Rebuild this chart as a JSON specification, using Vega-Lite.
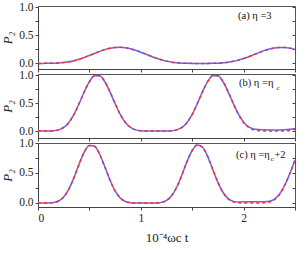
{
  "$schema": "https://vega.github.io/schema/vega-lite/v6.json",
  "padding": {"left": 1, "top": 0, "right": 1, "bottom": 0},
  "spacing": 5,
  "bounds": "flush",
  "config": {
    "view": {"stroke": "#555", "strokeWidth": 1},
    "axis": {"labelFont": "Liberation Serif", "labelFontSize": 11.5, "labelColor": "#222", "tickColor": "#444", "domainColor": "#444", "grid": false, "titleFont": "Liberation Serif", "titleFontWeight": "normal", "titleColor": "#222", "tickSize": 3, "labelPadding": 2}
  },
  "datasets": {
    "a": [
      {"x":0,"r":0,"b":0},{"x":0.05,"r":0,"b":0},{"x":0.1,"r":0.0004,"b":0.0004},{"x":0.15,"r":0.002,"b":0.002},{"x":0.2,"r":0.006,"b":0.006},{"x":0.25,"r":0.015,"b":0.015},{"x":0.3,"r":0.028,"b":0.028},{"x":0.35,"r":0.048,"b":0.048},{"x":0.4,"r":0.074,"b":0.074},{"x":0.45,"r":0.105,"b":0.105},{"x":0.5,"r":0.141,"b":0.141},{"x":0.55,"r":0.177,"b":0.177},{"x":0.6,"r":0.213,"b":0.213},{"x":0.65,"r":0.244,"b":0.244},{"x":0.7,"r":0.267,"b":0.267},{"x":0.75,"r":0.282,"b":0.282},{"x":0.8,"r":0.285,"b":0.285},{"x":0.85,"r":0.277,"b":0.277},{"x":0.9,"r":0.259,"b":0.259},{"x":0.95,"r":0.232,"b":0.232},{"x":1,"r":0.199,"b":0.199},{"x":1.05,"r":0.163,"b":0.163},{"x":1.1,"r":0.126,"b":0.126},{"x":1.15,"r":0.093,"b":0.093},{"x":1.2,"r":0.063,"b":0.063},{"x":1.25,"r":0.04,"b":0.04},{"x":1.3,"r":0.022,"b":0.022},{"x":1.35,"r":0.011,"b":0.011},{"x":1.4,"r":0.004,"b":0.004},{"x":1.45,"r":0.001,"b":0.001},{"x":1.5,"r":0,"b":0},{"x":1.55,"r":0,"b":0},{"x":1.6,"r":0,"b":0},{"x":1.65,"r":0,"b":0},{"x":1.7,"r":0.001,"b":0.001},{"x":1.75,"r":0.003,"b":0.003},{"x":1.8,"r":0.009,"b":0.009},{"x":1.85,"r":0.02,"b":0.02},{"x":1.9,"r":0.036,"b":0.036},{"x":1.95,"r":0.058,"b":0.058},{"x":2,"r":0.086,"b":0.086},{"x":2.05,"r":0.119,"b":0.119},{"x":2.1,"r":0.155,"b":0.155},{"x":2.15,"r":0.192,"b":0.192},{"x":2.2,"r":0.226,"b":0.226},{"x":2.25,"r":0.254,"b":0.254},{"x":2.3,"r":0.274,"b":0.274},{"x":2.35,"r":0.284,"b":0.284},{"x":2.4,"r":0.283,"b":0.283},{"x":2.45,"r":0.271,"b":0.271},{"x":2.5,"r":0.249,"b":0.249}
    ],
    "b": [
      {"x":0,"r":0,"b":0},{"x":0.05,"r":0,"b":0},{"x":0.1,"r":0.0004,"b":0.0004},{"x":0.15,"r":0.004,"b":0.004},{"x":0.2,"r":0.02,"b":0.02},{"x":0.25,"r":0.063,"b":0.063},{"x":0.3,"r":0.152,"b":0.152},{"x":0.35,"r":0.297,"b":0.297},{"x":0.4,"r":0.49,"b":0.49},{"x":0.45,"r":0.7,"b":0.7},{"x":0.5,"r":0.881,"b":0.881},{"x":0.55,"r":0.986,"b":0.986},{"x":0.6,"r":0.986,"b":0.986},{"x":0.65,"r":0.88,"b":0.88},{"x":0.7,"r":0.699,"b":0.699},{"x":0.75,"r":0.488,"b":0.488},{"x":0.8,"r":0.297,"b":0.297},{"x":0.85,"r":0.152,"b":0.152},{"x":0.9,"r":0.063,"b":0.063},{"x":0.95,"r":0.02,"b":0.02},{"x":1,"r":0.004,"b":0.004},{"x":1.05,"r":0.0004,"b":0.0004},{"x":1.1,"r":0,"b":0},{"x":1.15,"r":0,"b":0},{"x":1.2,"r":0,"b":0},{"x":1.25,"r":0.0004,"b":0.0004},{"x":1.3,"r":0.004,"b":0.004},{"x":1.35,"r":0.02,"b":0.02},{"x":1.4,"r":0.063,"b":0.063},{"x":1.45,"r":0.152,"b":0.152},{"x":1.5,"r":0.297,"b":0.297},{"x":1.55,"r":0.49,"b":0.49},{"x":1.6,"r":0.7,"b":0.7},{"x":1.65,"r":0.881,"b":0.881},{"x":1.7,"r":0.986,"b":0.986},{"x":1.75,"r":0.986,"b":0.986},{"x":1.8,"r":0.88,"b":0.88},{"x":1.85,"r":0.699,"b":0.699},{"x":1.9,"r":0.488,"b":0.49},{"x":1.95,"r":0.297,"b":0.3},{"x":2,"r":0.152,"b":0.158},{"x":2.05,"r":0.063,"b":0.073},{"x":2.1,"r":0.02,"b":0.035},{"x":2.15,"r":0.004,"b":0.025},{"x":2.2,"r":0.0004,"b":0.022},{"x":2.25,"r":0,"b":0.02},{"x":2.3,"r":0,"b":0.02},{"x":2.35,"r":0,"b":0.02},{"x":2.4,"r":0.0004,"b":0.022},{"x":2.45,"r":0.01,"b":0.03},{"x":2.5,"r":0.035,"b":0.045}
    ],
    "c": [
      {"x":0,"r":0,"b":0},{"x":0.05,"r":0,"b":0},{"x":0.1,"r":0.0007,"b":0.0007},{"x":0.15,"r":0.007,"b":0.007},{"x":0.2,"r":0.033,"b":0.033},{"x":0.25,"r":0.101,"b":0.101},{"x":0.3,"r":0.231,"b":0.231},{"x":0.35,"r":0.423,"b":0.423},{"x":0.4,"r":0.648,"b":0.648},{"x":0.45,"r":0.848,"b":0.848},{"x":0.5,"r":0.959,"b":0.959},{"x":0.55,"r":0.945,"b":0.945},{"x":0.6,"r":0.812,"b":0.812},{"x":0.65,"r":0.603,"b":0.603},{"x":0.7,"r":0.383,"b":0.383},{"x":0.75,"r":0.2,"b":0.2},{"x":0.8,"r":0.083,"b":0.083},{"x":0.85,"r":0.025,"b":0.025},{"x":0.9,"r":0.005,"b":0.005},{"x":0.95,"r":0.0004,"b":0.0004},{"x":1,"r":0,"b":0},{"x":1.05,"r":0,"b":0},{"x":1.1,"r":0,"b":0},{"x":1.15,"r":0.001,"b":0.001},{"x":1.2,"r":0.01,"b":0.01},{"x":1.25,"r":0.042,"b":0.042},{"x":1.3,"r":0.121,"b":0.121},{"x":1.35,"r":0.266,"b":0.266},{"x":1.4,"r":0.467,"b":0.467},{"x":1.45,"r":0.693,"b":0.693},{"x":1.5,"r":0.875,"b":0.875},{"x":1.55,"r":0.967,"b":0.967},{"x":1.6,"r":0.929,"b":0.929},{"x":1.65,"r":0.778,"b":0.778},{"x":1.7,"r":0.557,"b":0.557},{"x":1.75,"r":0.344,"b":0.344},{"x":1.8,"r":0.175,"b":0.175},{"x":1.85,"r":0.069,"b":0.072},{"x":1.9,"r":0.019,"b":0.027},{"x":1.95,"r":0.003,"b":0.015},{"x":2,"r":0.0002,"b":0.02},{"x":2.05,"r":0,"b":0.02},{"x":2.1,"r":0,"b":0.02},{"x":2.15,"r":0.0001,"b":0.02},{"x":2.2,"r":0.002,"b":0.022},{"x":2.25,"r":0.014,"b":0.03},{"x":2.3,"r":0.054,"b":0.065},{"x":2.35,"r":0.145,"b":0.15},{"x":2.4,"r":0.296,"b":0.296},{"x":2.45,"r":0.492,"b":0.492},{"x":2.5,"r":0.718,"b":0.718}
    ]
  },
  "vconcat": [
    {
      "width": 257, "height": 63,
      "data": {"name": "a"},
      "layer": [
        {"mark": {"type": "line", "color": "#5b6bff", "strokeWidth": 1.5, "interpolate": "monotone"},
         "encoding": {
           "x": {"field": "x", "type": "quantitative", "scale": {"domain": [0, 2.5], "nice": false}, "axis": {"title": null, "labels": false, "values": [0, 0.5, 1, 1.5, 2, 2.5]}},
           "y": {"field": "b", "type": "quantitative", "scale": {"domain": [-0.1, 1.02], "nice": false, "zero": false}, "axis": {"title": "P₂", "titleFontStyle": "italic", "titleFontSize": 13, "titlePadding": 4, "values": [0, 0.25, 0.5, 0.75, 1], "labelExpr": "datum.value * 2 % 1 == 0 ? format(datum.value, '.1f') : ''"}}
         }},
        {"mark": {"type": "line", "color": "#ff2a2a", "strokeWidth": 1.5, "strokeDash": [3, 3], "interpolate": "monotone"},
         "encoding": {
           "x": {"field": "x", "type": "quantitative"},
           "y": {"field": "r", "type": "quantitative", "axis": {"orient": "right", "title": null, "labels": false, "domain": false, "tickSize": -3, "values": [0, 0.25, 0.5, 0.75, 1]}}
         }},
        {"data": {"values": [{"x": 1.946, "y": 0.84, "t": "(a) η =3"}]},
         "mark": {"type": "text", "align": "left", "baseline": "middle", "font": "Liberation Serif", "fontSize": 10.5, "color": "#111"},
         "encoding": {"x": {"field": "x", "type": "quantitative"}, "y": {"field": "y", "type": "quantitative", "axis": null}, "text": {"field": "t"}}}
      ],
      "resolve": {"axis": {"y": "independent"}}
    },
    {
      "width": 257, "height": 64,
      "data": {"name": "b"},
      "layer": [
        {"mark": {"type": "line", "color": "#5b6bff", "strokeWidth": 1.5, "interpolate": "monotone"},
         "encoding": {
           "x": {"field": "x", "type": "quantitative", "scale": {"domain": [0, 2.5], "nice": false}, "axis": {"title": null, "labels": false, "values": [0, 0.5, 1, 1.5, 2, 2.5]}},
           "y": {"field": "b", "type": "quantitative", "scale": {"domain": [-0.125, 1.018], "nice": false, "zero": false}, "axis": {"title": "P₂", "titleFontStyle": "italic", "titleFontSize": 13, "titlePadding": 4, "values": [0, 0.25, 0.5, 0.75, 1], "labelExpr": "datum.value * 2 % 1 == 0 ? format(datum.value, '.1f') : ''"}}
         }},
        {"mark": {"type": "line", "color": "#ff2a2a", "strokeWidth": 1.5, "strokeDash": [3, 3], "interpolate": "monotone"},
         "encoding": {
           "x": {"field": "x", "type": "quantitative"},
           "y": {"field": "r", "type": "quantitative", "axis": {"orient": "right", "title": null, "labels": false, "domain": false, "tickSize": -3, "values": [0, 0.25, 0.5, 0.75, 1]}}
         }},
        {"data": {"values": [{"x": 1.955, "y": 0.85, "t": "(b) η =η"}]},
         "mark": {"type": "text", "align": "left", "baseline": "middle", "font": "Liberation Serif", "fontSize": 10.5, "color": "#111"},
         "encoding": {"x": {"field": "x", "type": "quantitative"}, "y": {"field": "y", "type": "quantitative", "axis": null}, "text": {"field": "t"}}},
        {"data": {"values": [{"x": 2.32, "y": 0.77, "t": "c"}]},
         "mark": {"type": "text", "align": "left", "baseline": "middle", "font": "Liberation Serif", "fontSize": 7, "color": "#111"},
         "encoding": {"x": {"field": "x", "type": "quantitative"}, "y": {"field": "y", "type": "quantitative", "axis": null}, "text": {"field": "t"}}}
      ],
      "resolve": {"axis": {"y": "independent"}}
    },
    {
      "width": 257, "height": 64,
      "data": {"name": "c"},
      "layer": [
        {"mark": {"type": "line", "color": "#5b6bff", "strokeWidth": 1.5, "interpolate": "monotone"},
         "encoding": {
           "x": {"field": "x", "type": "quantitative", "scale": {"domain": [0, 2.5], "nice": false}, "axis": {"title": "10⁻⁴ωc t", "titleFontSize": 13, "titlePadding": 8, "values": [0, 0.5, 1, 1.5, 2, 2.5], "labelExpr": "datum.value % 1 == 0 && datum.value < 2.5 ? format(datum.value, 'd') : ''"}},
           "y": {"field": "b", "type": "quantitative", "scale": {"domain": [-0.067, 1.0], "nice": false, "zero": false}, "axis": {"title": "P₂", "titleFontStyle": "italic", "titleFontSize": 13, "titlePadding": 4, "values": [0, 0.25, 0.5, 0.75, 1], "labelExpr": "datum.value * 2 % 1 == 0 ? format(datum.value, '.1f') : ''"}}
         }},
        {"mark": {"type": "line", "color": "#ff2a2a", "strokeWidth": 1.5, "strokeDash": [3, 3], "interpolate": "monotone"},
         "encoding": {
           "x": {"field": "x", "type": "quantitative"},
           "y": {"field": "r", "type": "quantitative", "axis": {"orient": "right", "title": null, "labels": false, "domain": false, "tickSize": -3, "values": [0, 0.25, 0.5, 0.75, 1]}}
         }},
        {"data": {"values": [{"x": 1.926, "y": 0.8, "t": "(c) η =η"}, {"x": 2.3, "y": 0.8, "t": "+2"}]},
         "mark": {"type": "text", "align": "left", "baseline": "middle", "font": "Liberation Serif", "fontSize": 10.5, "color": "#111"},
         "encoding": {"x": {"field": "x", "type": "quantitative"}, "y": {"field": "y", "type": "quantitative", "axis": null}, "text": {"field": "t"}}},
        {"data": {"values": [{"x": 2.263, "y": 0.73, "t": "c"}]},
         "mark": {"type": "text", "align": "left", "baseline": "middle", "font": "Liberation Serif", "fontSize": 7, "color": "#111"},
         "encoding": {"x": {"field": "x", "type": "quantitative"}, "y": {"field": "y", "type": "quantitative", "axis": null}, "text": {"field": "t"}}}
      ],
      "resolve": {"axis": {"y": "independent"}}
    }
  ]
}
